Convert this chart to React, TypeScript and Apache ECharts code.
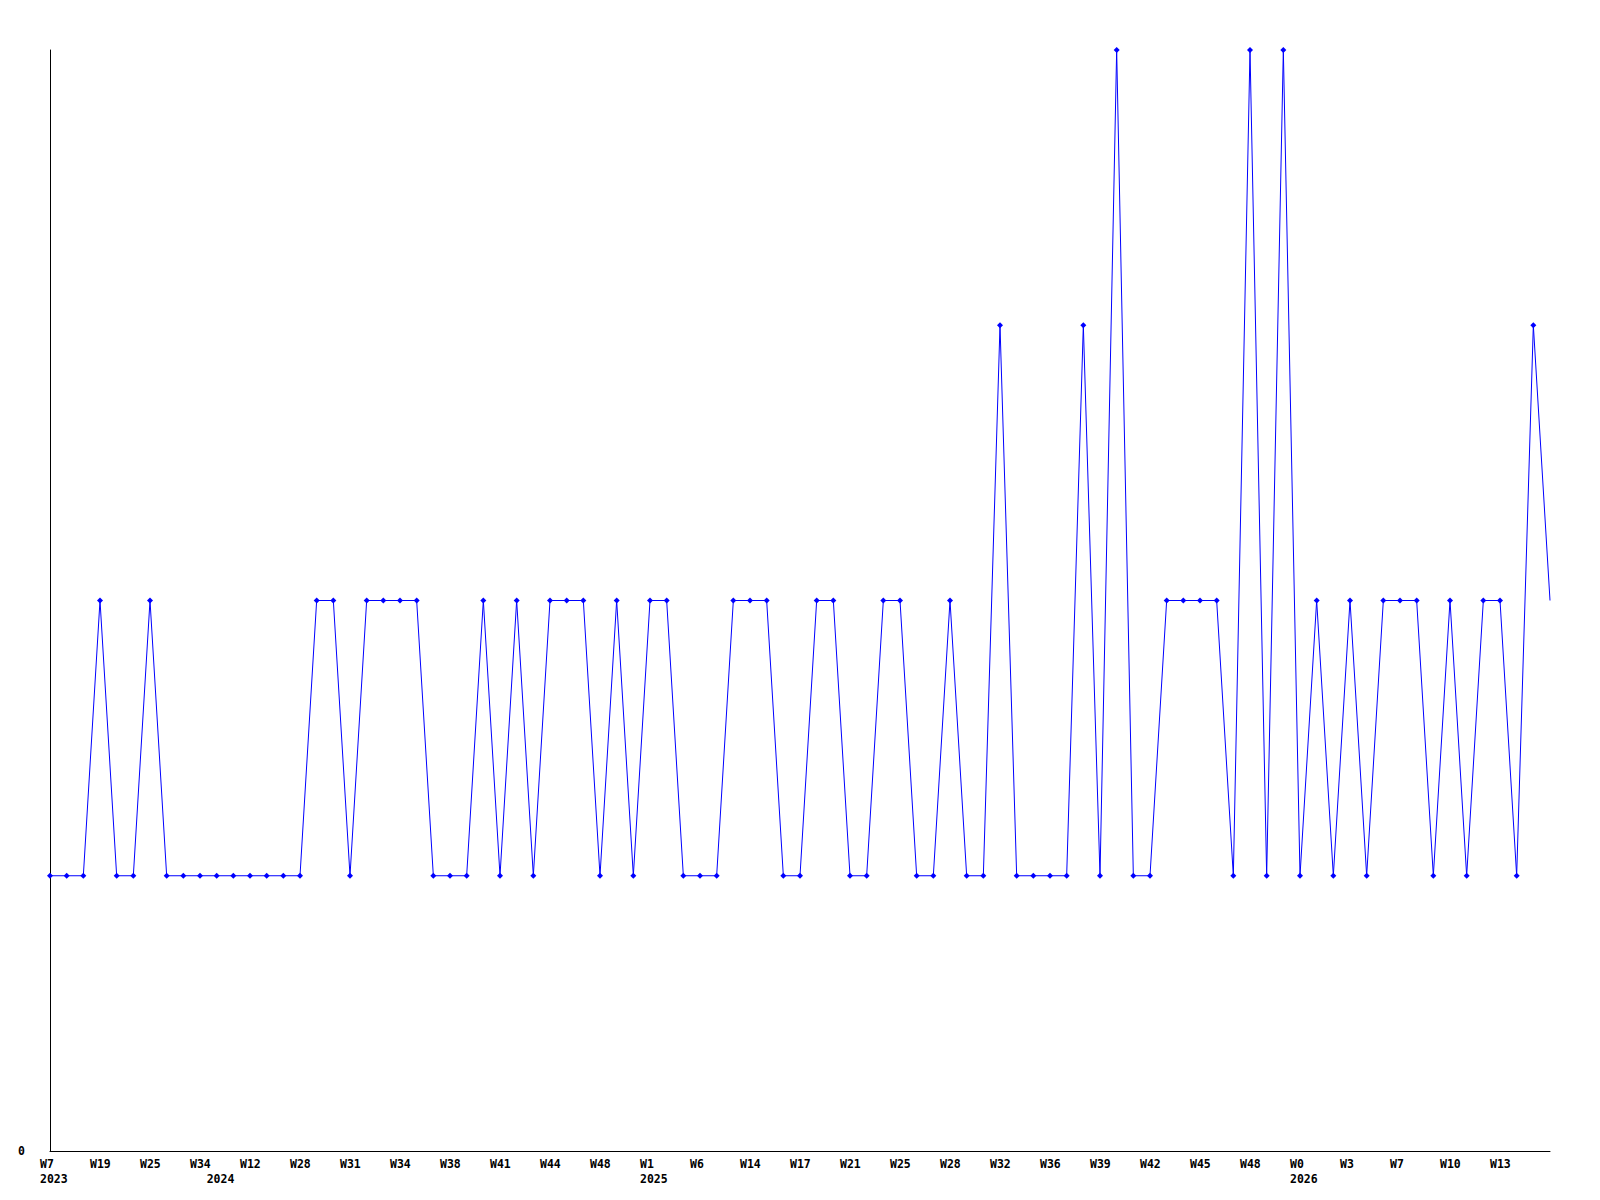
import React, { useEffect, useRef } from "react";
import * as echarts from "echarts";

// Weekly counts, one per point
const values: number[] = [
  1, 1, 1, 2, 1, 1, 2, 1, 1, 1,
  1, 1, 1, 1, 1, 1, 2, 2, 1, 2,
  2, 2, 2, 1, 1, 1, 2, 1, 2, 1,
  2, 2, 2, 1, 2, 1, 2, 2, 1, 1,
  1, 2, 2, 2, 1, 1, 2, 2, 1, 1,
  2, 2, 1, 1, 2, 1, 1, 3, 1, 1,
  1, 1, 3, 1, 4, 1, 1, 2, 2, 2,
  2, 1, 4, 1, 4, 1, 2, 1, 2, 1,
  2, 2, 2, 1, 2, 1, 2, 2, 1, 3,
  2,
];

// Week labels shown on every third point
const weekLabels: string[] = [
  "W7", "W19", "W25", "W34", "W12", "W28", "W31", "W34", "W38", "W41",
  "W44", "W48", "W1", "W6", "W14", "W17", "W21", "W25", "W28", "W32",
  "W36", "W39", "W42", "W45", "W48", "W0", "W3", "W7", "W10", "W13",
];
const weekLabelStep = 3;

// Year labels and the point index where each year starts
const yearLabels: string[] = ["2023", "2024", "2025", "2026"];
const yearStarts: number[] = [0, 10, 36, 75];

const categories: string[] = values.map((_, i) => String(i));

export default function App() {
  const ref = useRef<HTMLDivElement>(null);

  useEffect(() => {
    if (!ref.current) return;
    const chart = echarts.init(ref.current, undefined, { renderer: "svg" });
    const font = "DejaVu Sans Mono";

    const labelFor = (i: number) => {
      const wi = i / weekLabelStep;
      const week =
        i % weekLabelStep === 0 && wi < weekLabels.length ? weekLabels[wi] : "";
      const yi = yearStarts.indexOf(i);
      const year = yi >= 0 ? yearLabels[yi] : "";
      return year ? week + "\n" + year : week;
    };

    const seriesData = values.map((v, i) =>
      i === values.length - 1 ? { value: v, symbol: "none" } : v
    );

    chart.setOption({
      animation: false,
      backgroundColor: "#ffffff",
      grid: { left: 50, right: 50, top: 50, bottom: 49, containLabel: false },
      xAxis: {
        type: "category",
        data: categories,
        boundaryGap: false,
        axisLine: { show: true, lineStyle: { color: "#000000", width: 1 } },
        axisTick: { show: false },
        splitLine: { show: false },
        axisLabel: {
          interval: (index: number) => labelFor(index) !== "",
          formatter: (_v: string, index: number) => labelFor(index),
          align: "left",
          padding: [0, 0, 0, -10],
          margin: 5,
          color: "#000000",
          fontFamily: font,
          fontWeight: "bold",
          fontSize: 11.5,
          lineHeight: 15,
        },
      },
      yAxis: {
        type: "value",
        min: 0,
        max: 4,
        interval: 4,
        axisLine: { show: true, lineStyle: { color: "#000000", width: 1 } },
        axisTick: { show: false },
        splitLine: { show: false },
        axisLabel: {
          formatter: (v: number) => (v === 0 ? "0" : ""),
          margin: 25,
          color: "#000000",
          fontFamily: font,
          fontWeight: "bold",
          fontSize: 11.5,
        },
      },
      series: [
        {
          type: "line",
          data: seriesData,
          showAllSymbol: true,
          symbol: "diamond",
          symbolSize: 6,
          itemStyle: { color: "#0000ff" },
          lineStyle: { color: "#0000ff", width: 1 },
          emphasis: { disabled: true },
        },
      ],
    });

    return () => chart.dispose();
  }, []);

  return (
    <div
      ref={ref}
      style={{ position: "fixed", left: 0, top: 0, width: 1600, height: 1200 }}
    />
  );
}
